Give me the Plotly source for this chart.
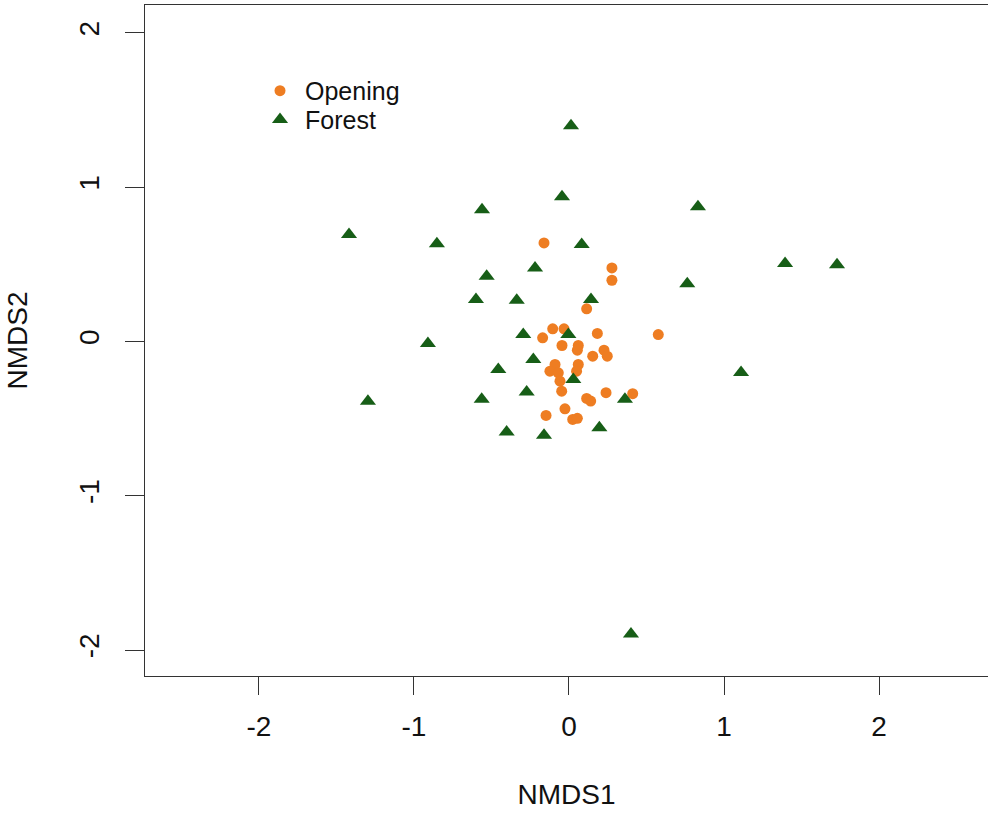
import plotly.graph_objects as go

# Opening sites (orange circles)
open_x = [-0.161, 0.277, 0.277, 0.114, -0.105, -0.032, -0.170, 0.183, 0.576, -0.045,
          0.060, 0.054, 0.153, 0.226, 0.247, -0.090, 0.060, -0.123, -0.069, 0.049,
          -0.058, -0.047, 0.114, 0.140, 0.239, 0.411, -0.026, -0.148, 0.024, 0.054]
open_y = [0.639, 0.477, 0.397, 0.212, 0.082, 0.082, 0.024, 0.052, 0.045, -0.026,
          -0.026, -0.056, -0.095, -0.056, -0.095, -0.149, -0.149, -0.192, -0.203, -0.192,
          -0.257, -0.322, -0.369, -0.386, -0.332, -0.338, -0.436, -0.479, -0.505, -0.498]

# Forest sites (dark green triangles)
forest_x = [0.013, -0.045, -0.561, 0.832, -1.419, -0.852, 1.394, 1.729, -0.910, 1.110,
            -1.297, 0.400, 0.082, -0.219, -0.531, 0.763, -0.600, -0.337, 0.142, -0.295,
            -0.004, -0.230, -0.456, 0.028, -0.273, -0.563, 0.361, 0.196, -0.402, -0.161]
forest_y = [1.398, 0.939, 0.854, 0.874, 0.693, 0.634, 0.505, 0.498, -0.013, -0.201,
            -0.388, -1.896, 0.628, 0.477, 0.423, 0.375, 0.272, 0.267, 0.272, 0.045,
            0.045, -0.117, -0.181, -0.246, -0.328, -0.375, -0.375, -0.559, -0.587, -0.608]

tick_vals = [-2, -1, 0, 1, 2]
tick_text = ["-2", "-1", "0", "1", "2"]

FONT = "Liberation Sans, Arial, Helvetica, sans-serif"
FS = 28

fig = go.Figure()
fig.add_trace(go.Scatter(x=open_x, y=open_y, mode="markers", name="Opening", legend="legend",
                         marker=dict(symbol="circle", size=11, color="#EE7D22",
                                     line=dict(width=0))))
fig.add_trace(go.Scatter(x=forest_x, y=forest_y, mode="markers", name="Forest", legend="legend2",
                         marker=dict(symbol="triangle-up", size=14, color="#175E17",
                                     line=dict(width=0))))

leg_common = dict(xanchor="left", yanchor="middle", bgcolor="rgba(0,0,0,0)", borderwidth=0,
                  font=dict(family=FONT, size=25, color="#111111"), itemwidth=40,
                  itemsizing="trace")

fig.update_layout(
    width=988, height=817,
    margin=dict(l=145, r=0, t=5, b=141),
    paper_bgcolor="white", plot_bgcolor="white",
    font=dict(family=FONT, size=FS, color="black"),
    showlegend=True,
    legend=dict(x=0.1305, y=0.872, **leg_common),
    legend2=dict(x=0.1305, y=0.829, **leg_common),
    xaxis=dict(range=[-2.735, 2.703], tickmode="array", tickvals=tick_vals, ticktext=tick_text,
               showgrid=False, zeroline=False, showline=True, mirror=True,
               linecolor="#333333", linewidth=1,
               ticks="outside", ticklen=18, tickcolor="#333333", tickwidth=1,
               ticklabelstandoff=7,
               tickfont=dict(family=FONT, size=FS, color="#111111"),
               title=dict(text="NMDS1", font=dict(family=FONT, size=FS, color="#111111"), standoff=43)),
    yaxis=dict(range=[-2.168, 2.181], tickmode="array", tickvals=tick_vals, ticktext=tick_text,
               showgrid=False, zeroline=False, showline=True, mirror=False,
               linecolor="#333333", linewidth=1,
               ticks="outside", ticklen=19, tickcolor="#333333", tickwidth=1, tickangle=-90,
               ticklabelstandoff=15,
               tickfont=dict(family=FONT, size=FS, color="#111111"),
               title=dict(text="NMDS2", font=dict(family=FONT, size=FS, color="#111111"), standoff=37)),
)

fig.write_html("out.html")
